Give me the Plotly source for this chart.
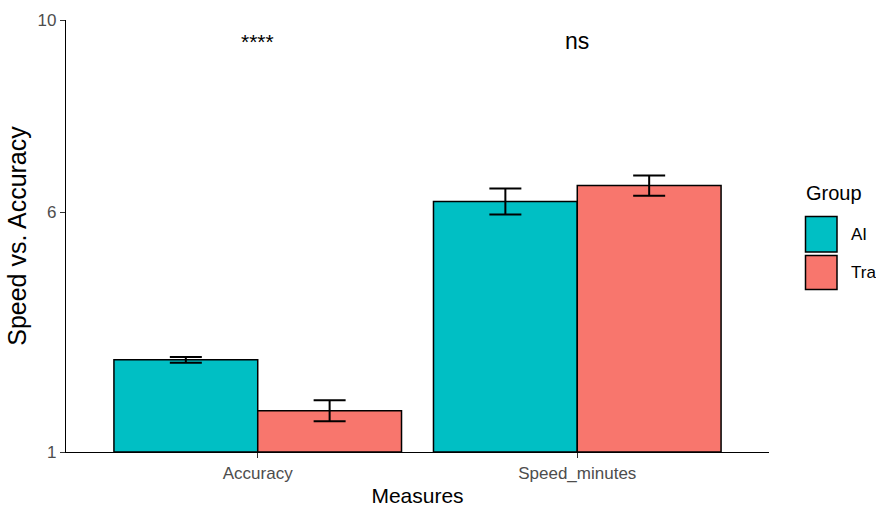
import plotly.graph_objects as go

measures = ["Accuracy", "Speed_minutes"]
groups = ["AI", "Tra"]
ai_values = [2.92, 6.22]
ai_err = [0.06, 0.27]
tra_values = [1.86, 6.55]
tra_err = [0.22, 0.21]
signif_labels = ["****", "ns"]
signif_y = [9.56, 9.56]
y_ticks = [1, 6, 10]

colors = {"AI": "#00BFC4", "Tra": "#F8766D"}
W, H = 876, 509
L, R, T, B = 66, 107, 20, 57
FONT = "Liberation Sans, Arial, sans-serif"

fig = go.Figure()
base = 1
for name, vals, errs in [("AI", ai_values, ai_err), ("Tra", tra_values, tra_err)]:
    fig.add_trace(go.Bar(
        x=measures, y=[v - base for v in vals], base=base, name=name,
        marker=dict(color=colors[name], line=dict(color="black", width=1.5)),
        error_y=dict(type="data", array=errs, color="black", thickness=2, width=16),
        showlegend=False,
    ))

for m, lab, yy, fs in zip(measures, signif_labels, signif_y, [21, 23]):
    fig.add_annotation(x=m, y=yy, xref="x", yref="y", text=lab, showarrow=False,
                       font=dict(family=FONT, size=fs, color="black"), yanchor="middle")

def px_x(p):
    return (p - L) / (W - L - R)

def px_y(p):
    return (H - B - p) / (H - T - B)

# manual legend
fig.add_annotation(x=px_x(804), y=px_y(193), xref="paper", yref="paper", text="Group",
                   showarrow=False, xanchor="left", yanchor="middle",
                   font=dict(family=FONT, size=20, color="black"))
for name, top, bot in [("AI", 216.5, 252), ("Tra", 255.5, 289.5)]:
    fig.add_shape(type="rect", xref="paper", yref="paper",
                  x0=px_x(805.5), x1=px_x(837), y0=px_y(bot), y1=px_y(top),
                  fillcolor=colors[name], line=dict(color="black", width=1.5))
    fig.add_annotation(x=px_x(849), y=px_y((top + bot) / 2), xref="paper", yref="paper",
                       text=name, showarrow=False, xanchor="left", yanchor="middle",
                       font=dict(family=FONT, size=17, color="black"))

fig.update_layout(
    width=W, height=H, margin=dict(l=L, r=R, t=T, b=B, autoexpand=False),
    paper_bgcolor="white", plot_bgcolor="white",
    barmode="group", bargap=0.1, bargroupgap=0,
    font=dict(family=FONT, color="black"),
    showlegend=False,
)
fig.update_xaxes(
    range=[-0.6, 1.6], showline=True, linecolor="black", linewidth=1.3,
    ticks="outside", ticklen=5, tickcolor="#333333", tickwidth=1.2,
    tickfont=dict(family=FONT, size=17, color="#4D4D4D"),
    title=dict(text="Measures", font=dict(family=FONT, size=21, color="black"), standoff=6),
    showgrid=False, zeroline=False, automargin=False,
)
fig.update_yaxes(
    range=[1, 10], tickvals=y_ticks, ticktext=[str(t) for t in y_ticks],
    showline=True, linecolor="black", linewidth=1.3,
    ticks="outside", ticklen=5, tickcolor="#333333", tickwidth=1.2,
    tickfont=dict(family=FONT, size=17, color="#4D4D4D"),
    title=dict(text="Speed vs. Accuracy", font=dict(family=FONT, size=25, color="black"), standoff=3),
    showgrid=False, zeroline=False, automargin=False,
)

fig.write_html("out.html", config={"displayModeBar": False},
               post_script="document.body.style.margin='0';document.body.style.overflow='hidden';")
